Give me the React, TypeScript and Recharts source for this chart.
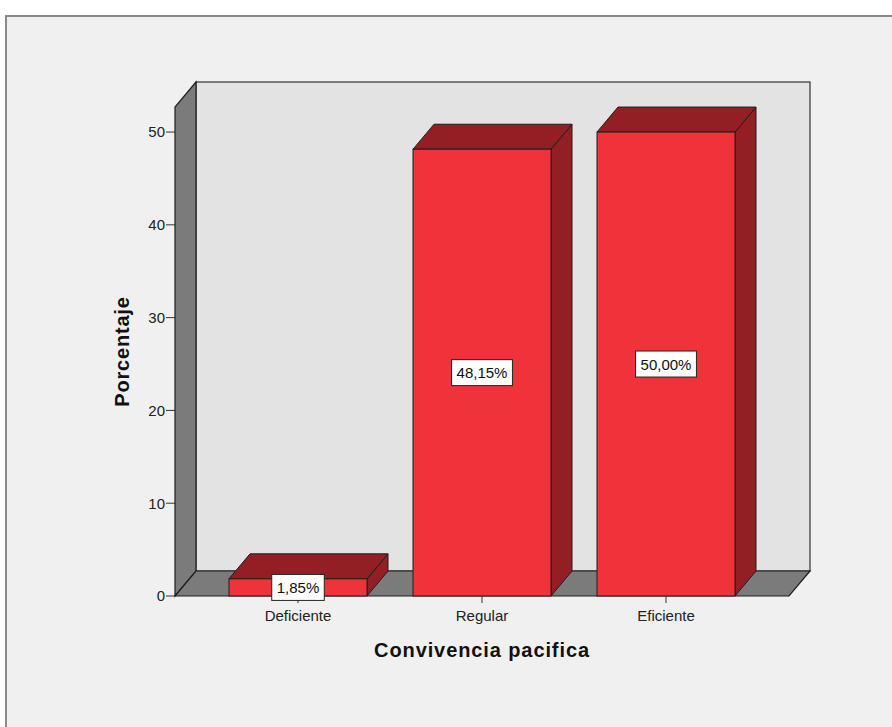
import React from 'react';
import { BarChart, Bar, XAxis, YAxis, ReferenceArea, LabelList } from 'recharts';

const categories = ['Deficiente', 'Regular', 'Eficiente'];
const percentages = [1.85, 48.15, 50.0];
const valueLabels = ['1,85%', '48,15%', '50,00%'];
const yTicks = [0, 10, 20, 30, 40, 50];
const yMax = 52.7;
const xTitle = 'Convivencia pacifica';
const yTitle = 'Porcentaje';

const data = categories.map((c, i) => ({ name: c, value: percentages[i], label: valueLabels[i] }));

const DX = 21;
const DY = -25;
const PAD = 31;
const FONT = '"Liberation Sans", Arial, sans-serif';
const FRONT = '#F0323A';
const DARK = '#931F24';
const WALL = '#7B7B7B';
const BACK = '#E3E3E3';
const EDGE = '#1e1e1e';

const Walls = (props: any) => {
  const { y, height } = props;
  const x = props.x - PAD;
  const width = props.width + 2 * PAD;
  const b = y + height;
  const r = x + width;
  return (
    <g>
      <rect x={x + DX} y={y + DY} width={width} height={height} fill={BACK} stroke="#333" strokeWidth={1.2} />
      <polygon
        points={`${x},${b} ${x},${y} ${x + DX},${y + DY} ${x + DX},${b + DY}`}
        fill={WALL}
        stroke={EDGE}
        strokeWidth={1.2}
      />
      <polygon
        points={`${x},${b} ${x + DX},${b + DY} ${r + DX},${b + DY} ${r},${b}`}
        fill={WALL}
        stroke={EDGE}
        strokeWidth={1.2}
      />
    </g>
  );
};

const Box3D = (props: any) => {
  const { x, y, width, height } = props;
  if (width == null || height == null) return null;
  const r = x + width;
  const b = y + height;
  return (
    <g>
      <polygon
        points={`${r},${y} ${r + DX},${y + DY} ${r + DX},${b + DY} ${r},${b}`}
        fill={DARK}
        stroke={EDGE}
        strokeWidth={1}
      />
      <polygon
        points={`${x},${y} ${x + DX},${y + DY} ${r + DX},${y + DY} ${r},${y}`}
        fill={DARK}
        stroke={EDGE}
        strokeWidth={1}
      />
      <rect x={x} y={y} width={width} height={height} fill={FRONT} stroke={EDGE} strokeWidth={1} />
    </g>
  );
};

const textWidth = (s: string, size: number) => {
  let w = 0;
  for (const ch of s) {
    if (ch === ',' || ch === '.') w += 0.278;
    else if (ch === '%') w += 0.889;
    else w += 0.556;
  }
  return w * size;
};

const ValueLabel = (props: any) => {
  const { x, y, width, height, value } = props;
  const cx = x + width / 2;
  const cy = y + height / 2;
  const text = String(value);
  const w = textWidth(text, 15) + 10;
  const h = 26;
  return (
    <g>
      <rect x={cx - w / 2} y={cy - h / 2} width={w} height={h} fill="#ffffff" stroke="#222" strokeWidth={1} />
      <text x={cx} y={cy + 5.5} textAnchor="middle" fontFamily={FONT} fontSize={15} fill="#111">
        {text}
      </text>
    </g>
  );
};

const XTitle = (props: any) => {
  const vb = props.viewBox || {};
  return (
    <text
      x={vb.x + vb.width / 2}
      y={vb.y + 61}
      textAnchor="middle"
      fontFamily={FONT}
      fontSize={20}
      fontWeight="bold"
      letterSpacing={0.9}
      fill="#111"
    >
      {xTitle}
    </text>
  );
};

const YTitle = (props: any) => {
  const vb = props.viewBox || {};
  const cx = vb.x + 129;
  const cy = vb.y + vb.height / 2;
  return (
    <text
      x={cx}
      y={cy}
      transform={`rotate(-90, ${cx}, ${cy})`}
      textAnchor="middle"
      fontFamily={FONT}
      fontSize={20}
      fontWeight="bold"
      letterSpacing={0.8}
      fill="#111"
    >
      {yTitle}
    </text>
  );
};

export default function App() {
  return (
    <div style={{ position: 'absolute', left: 0, top: 0, width: 892, height: 727, background: '#ffffff' }}>
      <div
        style={{
          position: 'absolute',
          left: 5,
          top: 15,
          width: 887,
          height: 712,
          background: '#F0F0F0',
          borderTop: '2px solid #8a8a8a',
          borderLeft: '2px solid #8a8a8a',
          boxSizing: 'border-box',
        }}
      />
      <div style={{ position: 'absolute', left: 0, top: 0 }}>
        <BarChart
          width={892}
          height={727}
          data={data}
          margin={{ top: 107, right: 103, bottom: 61, left: 0 }}
          barCategoryGap="12.5%"
        >
          <ReferenceArea y1={0} y2={yMax} shape={Walls} ifOverflow="visible" />
          <XAxis
            dataKey="name"
            height={70}
            padding={{ left: PAD, right: PAD }}
            axisLine={false}
            tickLine={{ stroke: '#333' }}
            tickSize={7}
            tickMargin={7}
            tick={{ fontFamily: FONT, fontSize: 15, fill: '#222' }}
            label={<XTitle />}
          />
          <YAxis
            width={175}
            domain={[0, yMax]}
            ticks={yTicks}
            axisLine={false}
            tickLine={{ stroke: '#333' }}
            tickSize={9}
            tickMargin={1}
            tick={{ fontFamily: FONT, fontSize: 15, fill: '#222' }}
            label={<YTitle />}
          />
          <Bar dataKey="value" shape={Box3D} isAnimationActive={false}>
            <LabelList dataKey="label" content={ValueLabel} />
          </Bar>
        </BarChart>
      </div>
    </div>
  );
}
